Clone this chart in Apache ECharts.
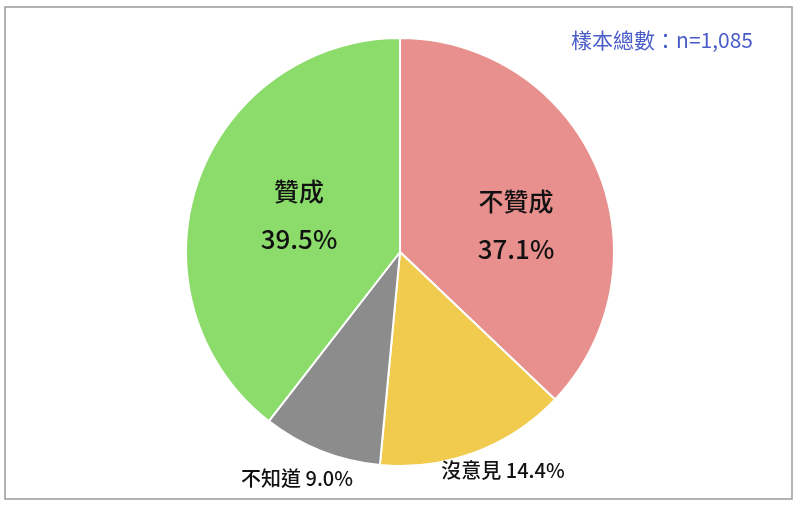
<!DOCTYPE html>
<html>
<head>
<meta charset="utf-8">
<script src="https://cdn.jsdelivr.net/npm/echarts@6/dist/echarts.min.js"></script>
<style>
html,body{margin:0;padding:0;background:#fff;}
#c{width:800px;height:505px;}
</style>
</head>
<body>
<div id="c"></div>
<script>
var categories = ['不贊成', '沒意見', '不知道', '贊成'];
var values = [37.1, 14.4, 9.0, 39.5];
var colors = ['#e8908d', '#f0cb4e', '#8c8c8c', '#8cdc6c'];
var titleText = '樣本總數：n=1,085';
// label anchor positions (px) for each slice label
var labelPos = [[516, 225], [503, 470], [297, 478], [299, 215]];

var chart = echarts.init(document.getElementById('c'));
var FONT = '"Noto Sans CJK TC", "Noto Sans", sans-serif';

var data = categories.map(function (n, i) {
  var big = (i === 0 || i === 3);
  return {
    name: n,
    value: values[i],
    itemStyle: { color: colors[i] },
    label: big ? {
      formatter: '{n|{b}}\n{v|{c}%}',
      rich: {
        n: { fontSize: 25, fontFamily: FONT, fontWeight: 500, color: '#111', lineHeight: 48 },
        v: { fontSize: 26, fontFamily: FONT, fontWeight: 500, color: '#111', lineHeight: 48 }
      }
    } : {
      formatter: function (p) { return p.name + ' ' + p.value.toFixed(1) + '%'; },
      fontSize: 20, fontFamily: FONT, fontWeight: 500, color: '#111'
    }
  };
});

chart.setOption({
  animation: false,
  graphic: [{
    type: 'rect',
    shape: { x: 5, y: 7, width: 787, height: 492 },
    style: { fill: 'none', stroke: '#9a9a9a', lineWidth: 1.5 },
    z: -1
  }],
  title: {
    text: titleText,
    right: 42,
    top: 25,
    textStyle: { color: '#4a5cc8', fontSize: 21, fontWeight: 'normal', fontFamily: FONT }
  },
  series: [{
    type: 'pie',
    center: [400, 252],
    radius: 214,
    startAngle: 90,
    clockwise: true,
    data: data,
    itemStyle: { borderColor: '#ffffff', borderWidth: 2 },
    label: { show: true, position: 'inside' },
    labelLine: { show: false },
    labelLayout: function (p) {
      var pos = labelPos[p.dataIndex];
      return { x: pos[0], y: pos[1], align: 'center', verticalAlign: 'middle' };
    },
    emphasis: { disabled: true }
  }]
});
</script>
</body>
</html>
